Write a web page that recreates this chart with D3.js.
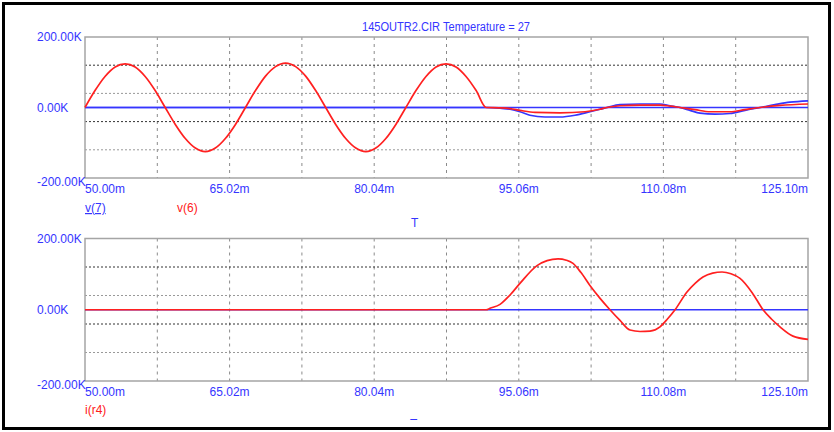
<!DOCTYPE html>
<meta charset="utf-8">
<head>
  <title>145OUTR2.CIR transient</title>
</head>

<style>
body { margin: 0; background: white; }
text {
  font-family: "Liberation Sans Narrow", "Arial Narrow", "Liberation Sans", sans-serif;
  font-size: 12px;
  fill: #3535ff;
}
.trace { fill: none; stroke-width: 1.7; }
</style>

<body>
  <svg width="834" height="432"></svg>

  <script src="https://cdnjs.cloudflare.com/ajax/libs/d3/7.8.5/d3.min.js"></script>
  <script>
// time axis (ms)
var xTicks = [50.00, 65.02, 80.04, 95.06, 110.08, 125.10];
var xGrid = [57.51, 65.02, 72.53, 80.04, 87.55, 95.06, 102.57, 110.08, 117.59];
var yTicks = [200, 0, -200];
var yTickLabels = ['200.00K', '0.00K', '-200.00K'];
var yGridDark = [120, -40];
var yGridLight = [40, -120];

// v(6), red, top panel (K)
var v6Time = [50.00, 51.04, 52.08, 53.13, 54.17, 55.21, 56.25, 57.29, 58.33, 59.38,
  60.42, 61.46, 62.50, 63.54, 64.58, 65.63, 66.67, 67.71, 68.75, 69.79,
  70.83, 71.88, 72.92, 73.96, 75.00, 76.04, 77.08, 78.13, 79.17, 80.21,
  81.25, 82.29, 83.33, 84.38, 85.42, 86.46, 87.50, 88.54, 89.58, 90.63, 91.67,
  93.00, 94.15, 95.18, 96.74, 99.34, 101.94, 103.49, 104.22, 105.57, 107.65,
  109.73, 110.77, 111.81, 113.36, 114.92, 117.00, 118.55, 120.12, 122.19, 125.10];
var v6 = [0, 48, 88, 115, 124, 115, 88, 48, 0, -48,
  -88, -115, -125, -115, -88, -48, 0, 48, 89, 116,
  126, 116, 89, 48, 0, -48, -88, -115, -125, -115,
  -88, -48, 0, 48, 88, 115, 124, 115, 88, 48, 0,
  -1, -3, -8, -14, -15, -12, -5, 0, 5, 7,
  7, 4, 0, -6, -12, -12, -6, 0, 6, 10];

// v(7), blue, top panel (K)
var v7Time = [50.00, 91.67, 93.11, 94.15, 95.18, 96.22, 97.78, 99.34, 100.90, 102.45,
  103.49, 104.22, 105.57, 107.65, 109.73, 110.77, 111.81, 112.84, 113.88, 115.44,
  117.00, 118.55, 120.12, 121.67, 123.23, 125.10];
var v7 = [0, 0, -2, -5, -12, -22, -27, -27, -22, -12,
  -5, 0, 8, 10, 10, 5, 0, -8, -16, -19,
  -17, -8, 0, 8, 15, 19];

// i(r4), red, bottom panel (K)
var ir4Time = [50.00, 91.67, 92.07, 93.11, 94.10, 95.18, 96.95, 98.00, 99.13, 100.0, 100.69,
  101.50, 102.45, 103.50, 104.53, 105.57, 106.61, 107.65, 108.69, 109.73, 110.50, 111.29,
  112.53, 113.40, 114.19, 115.20, 116.17, 117.10, 118.04, 119.30, 120.43,
  121.30, 122.19, 123.54, 125.10];
var ir4 = [0, 0, 4, 15, 40, 74, 124, 138, 143, 139, 130,
  105, 68, 32, 0, -30, -57, -61, -60, -48, -26, 0,
  50, 75, 92, 103, 106, 101, 88, 48, 0,
  -26, -48, -74, -83];

var svg = d3.select('svg');

svg.append('rect')
  .attr('x', 3.5).attr('y', 3.5)
  .attr('width', 826).attr('height', 425)
  .attr('fill', 'none')
  .attr('stroke', 'black')
  .attr('stroke-width', 3);

var x = d3.scaleLinear().domain([50, 125.10]).range([85, 808]);

function panel(top, bottom, traces) {
  var y = d3.scaleLinear().domain([-200, 200]).range([bottom, top]);
  var g = svg.append('g');

  g.selectAll('.vg').data(xGrid).enter().append('line')
    .attr('x1', d => x(d)).attr('x2', d => x(d))
    .attr('y1', top).attr('y2', bottom)
    .attr('stroke', '#8a8a8a').attr('stroke-dasharray', '3,4');

  g.selectAll('.hd').data(yGridDark).enter().append('line')
    .attr('x1', x.range()[0]).attr('x2', x.range()[1])
    .attr('y1', d => y(d)).attr('y2', d => y(d))
    .attr('stroke', '#333').attr('stroke-dasharray', '2,2');

  g.selectAll('.hl').data(yGridLight).enter().append('line')
    .attr('x1', x.range()[0]).attr('x2', x.range()[1])
    .attr('y1', d => y(d)).attr('y2', d => y(d))
    .attr('stroke', '#999').attr('stroke-dasharray', '2,2');

  g.append('rect')
    .attr('x', 85).attr('y', top)
    .attr('width', 808 - 85).attr('height', bottom - top)
    .attr('fill', 'none').attr('stroke', '#a5a5a5').attr('stroke-width', 1.5);

  // zero line
  g.append('line')
    .attr('x1', x.range()[0]).attr('x2', x.range()[1])
    .attr('y1', y(0)).attr('y2', y(0))
    .attr('stroke', '#3535ff').attr('stroke-width', 1.5);

  var line = d3.line()
    .x(d => x(d[0]))
    .y(d => y(d[1]))
    .curve(d3.curveMonotoneX);

  traces.forEach(function(t) {
    g.append('path')
      .attr('class', 'trace')
      .attr('stroke', t.color)
      .attr('d', line(d3.zip(t.time, t.value)));
  });

  // y tick labels
  g.selectAll('.yl').data(yTicks).enter().append('text')
    .attr('x', 37)
    .attr('y', d => y(d) + (d == -200 ? 8 : 4))
    .text((d, i) => yTickLabels[i]);

  // x tick labels
  g.selectAll('.xl').data(xTicks).enter().append('text')
    .attr('x', d => x(d))
    .attr('y', bottom + 15)
    .attr('text-anchor', (d, i) => i == 0 ? 'start' : (i == xTicks.length - 1 ? 'end' : 'middle'))
    .text(d => d.toFixed(2) + 'm');

  return g;
}

panel(37, 178, [
  {time: v7Time, value: v7, color: '#3535ff'},
  {time: v6Time, value: v6, color: '#ff2020'}
]);

panel(238.5, 381, [
  {time: ir4Time, value: ir4, color: '#ff2020'}
]);

svg.append('text')
  .attr('x', 362).attr('y', 31)
  .attr('textLength', 168)
  .attr('lengthAdjust', 'spacingAndGlyphs')
  .text('145OUTR2.CIR Temperature = 27');

svg.append('text')
  .attr('x', 85).attr('y', 212)
  .style('text-decoration', 'underline')
  .text('v(7)');

svg.append('text')
  .attr('x', 177).attr('y', 212)
  .style('fill', '#ff2020')
  .text('v(6)');

svg.append('text')
  .attr('x', 411).attr('y', 227)
  .text('T');

svg.append('text')
  .attr('x', 85).attr('y', 414)
  .style('fill', '#ff2020')
  .text('i(r4)');

svg.append('clipPath').attr('id', 'cut')
  .append('rect').attr('x', 400).attr('y', 410).attr('width', 30).attr('height', 10);

svg.append('text')
  .attr('x', 410).attr('y', 428)
  .attr('clip-path', 'url(#cut)')
  .text('T');

  </script>
</body>
</html>
